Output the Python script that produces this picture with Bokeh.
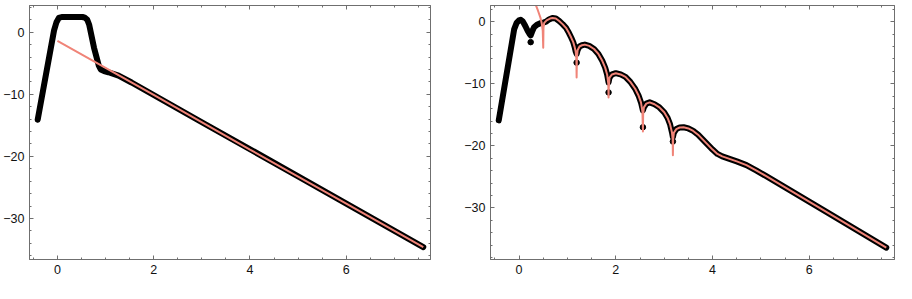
from bokeh.plotting import figure
from bokeh.models import Range1d, FixedTicker, LinearAxis, CustomJSTickFormatter
from bokeh.layouts import row
from bokeh.embed import file_html
from bokeh.resources import INLINE

# ---------------- data ----------------
# left panel
left_black_x = [-0.41, -0.07, -0.02, 0.03, 0.09, 0.30, 0.52, 0.57, 0.62, 0.66, 0.76, 0.86, 0.90, 0.97, 1.06, 1.27, 1.54, 3.0, 5.0, 7.6]
left_black_y = [-14.1, 0.3, 1.6, 2.3, 2.45, 2.45, 2.45, 2.35, 2.0, 1.2, -2.5, -5.4, -6.0, -6.25, -6.45, -7.0, -8.1, -14.5, -23.2, -34.6]
left_red_x = [0.0, 2.0, 4.0, 6.0, 7.6]
left_red_y = [-1.4, -10.1, -18.9, -27.6, -34.6]

# right panel
right_red_x = [0.31, 0.34, 0.39, 0.44, 0.47, 0.49, 0.50, 0.505, 0.52, 0.57, 0.64, 0.69, 0.76, 0.83,
               0.90, 0.97, 1.03, 1.08, 1.12, 1.15, 1.17, 1.185, 1.19, 1.195, 1.21, 1.25, 1.30, 1.36,
               1.45, 1.55, 1.64, 1.72, 1.78, 1.82, 1.845, 1.85, 1.855, 1.87, 1.92, 2.0, 2.1, 2.2,
               2.3, 2.4, 2.47, 2.52, 2.55, 2.56, 2.565, 2.58, 2.63, 2.70, 2.80, 2.90, 3.0, 3.07,
               3.12, 3.16, 3.175, 3.18, 3.185, 3.20, 3.25, 3.32, 3.40, 3.50, 3.60, 3.70, 3.80,
               3.90, 4.0, 4.1, 4.2, 4.35, 4.5, 4.7, 4.9, 5.1, 6.3, 7.59]
right_red_y = [4.0, 2.8, 1.8, 0.7, -0.3, -1.5, -4.2, -1.0, -0.2, 0.2, 0.5, 0.6, 0.5, 0.1,
               -0.4, -1.0, -1.8, -2.6, -3.3, -4.1, -4.8, -6.0, -9.0, -6.0, -4.6, -4.0, -3.8, -3.7,
               -3.9, -4.4, -5.2, -6.3, -7.4, -8.5, -10.0, -12.2, -10.5, -9.0, -8.5, -8.3, -8.5, -8.9,
               -9.7, -10.8, -11.9, -13.0, -14.5, -17.7, -15.0, -13.8, -13.2, -13.0, -13.3, -13.8, -14.6, -15.5,
               -16.5, -17.8, -19.0, -21.5, -19.0, -17.9, -17.3, -17.05, -17.0, -17.2, -17.6, -18.2, -19.0,
               -19.8, -20.6, -21.3, -21.7, -22.1, -22.5, -23.1, -23.95, -24.85, -30.4, -36.4]

right_black_x = [-0.42, -0.10, -0.05, 0.0, 0.035, 0.08, 0.13, 0.18, 0.22, 0.24, 0.27, 0.31, 0.37, 0.44,
                 0.50, 0.56, 0.62, 0.69, 0.76, 0.83, 0.90, 0.97, 1.03, 1.08, 1.12, 1.15, 1.17, 1.19,
                 1.21, 1.25, 1.30, 1.36, 1.45, 1.55, 1.64, 1.72, 1.78, 1.82, 1.85, 1.87, 1.92, 2.0,
                 2.1, 2.2, 2.3, 2.4, 2.47, 2.52, 2.56, 2.58, 2.63, 2.70, 2.80, 2.90, 3.0, 3.07, 3.12,
                 3.16, 3.18, 3.20, 3.25, 3.32, 3.40, 3.50, 3.60, 3.70, 3.80, 3.90, 4.0, 4.1, 4.2,
                 4.35, 4.5, 4.7, 4.9, 5.1, 6.3, 7.59]
right_black_y = [-15.9, -1.2, -0.2, 0.2, 0.3, 0.0, -0.7, -1.5, -2.0, -2.2, -1.6, -0.9, -0.5, -0.25,
                 -0.15, 0.0, 0.35, 0.6, 0.5, 0.1, -0.4, -1.0, -1.8, -2.6, -3.3, -4.1, -4.8, -5.2,
                 -4.6, -4.0, -3.8, -3.7, -3.9, -4.4, -5.2, -6.3, -7.4, -8.5, -9.8, -9.0, -8.5, -8.3,
                 -8.5, -8.9, -9.7, -10.8, -11.9, -13.0, -14.3, -13.8, -13.2, -13.0, -13.3, -13.8, -14.6, -15.5, -16.5,
                 -17.8, -18.6, -17.9, -17.3, -17.05, -17.0, -17.2, -17.6, -18.2, -19.0, -19.8, -20.6, -21.3, -21.7,
                 -22.1, -22.5, -23.1, -23.95, -24.85, -30.4, -36.4]
right_dot_x = [0.24, 1.19, 1.85, 2.56, 3.18]
right_dot_y = [-3.3, -6.6, -11.4, -17.0, -19.3]

x_major = [0, 2, 4, 6]
x_minor = [-0.5, 0.5, 1, 1.5, 2.5, 3, 3.5, 4.5, 5, 5.5, 6.5, 7, 7.5]
y_major = [0, -10, -20, -30]
y_minor = [4, 2, -2, -4, -6, -8, -12, -14, -16, -18, -22, -24, -26, -28, -32, -34, -36, -38]

FRAME = "#6f6f6f"
LABEL = "#111111"
RED = "#F08478"

fmt_code = "return tick < 0 ? '\u2212' + Math.abs(tick) : tick.toString();"


def add_axes(p):
    for loc in ["below", "left", "above", "right"]:
        if loc in ("below", "above"):
            tk = FixedTicker(ticks=x_major, minor_ticks=x_minor)
        else:
            tk = FixedTicker(ticks=y_major, minor_ticks=y_minor)
        shown = loc in ("below", "left")
        ax = LinearAxis(
            ticker=tk,
            formatter=CustomJSTickFormatter(code=fmt_code if shown else "return '';"),
            axis_line_color=FRAME, axis_line_width=1,
            major_tick_line_color=FRAME, minor_tick_line_color=FRAME,
            major_tick_in=4, major_tick_out=0, minor_tick_in=2, minor_tick_out=0,
            major_label_text_font="Liberation Sans",
            major_label_text_font_size="12.5px" if shown else "0px",
            major_label_text_color=LABEL,
            major_label_standoff=5 if shown else 0,
        )
        p.add_layout(ax, loc)


def make_fig(width, bl, br, xr, yr):
    p = figure(width=width, height=283, x_range=Range1d(*xr), y_range=Range1d(*yr),
               output_backend="svg", toolbar_location=None,
               x_axis_location=None, y_axis_location=None,
               min_border_left=bl, min_border_right=br, min_border_top=5, min_border_bottom=24)
    p.grid.visible = False
    p.outline_line_color = FRAME
    p.background_fill_color = "white"
    p.border_fill_color = "white"
    add_axes(p)
    return p


p1 = make_fig(460, 26, 30, (-0.58, 7.75), (-36.6, 4.3))
p1.line(left_black_x, left_black_y, line_color="black", line_width=6, line_join="round", line_cap="round")
p1.line(left_red_x, left_red_y, line_color=RED, line_width=2)

p2 = make_fig(436, 30, 2, (-0.59, 7.76), (-38.3, 2.6))
p2.line(right_black_x, right_black_y, line_color="black", line_width=6, line_join="round", line_cap="round")
p2.scatter(right_dot_x, right_dot_y, size=5.5, color="black")
p2.line(right_red_x, right_red_y, line_color=RED, line_width=2, line_join="round")

layout = row(p1, p2)
open("out.html", "w").write(file_html(layout, INLINE))
